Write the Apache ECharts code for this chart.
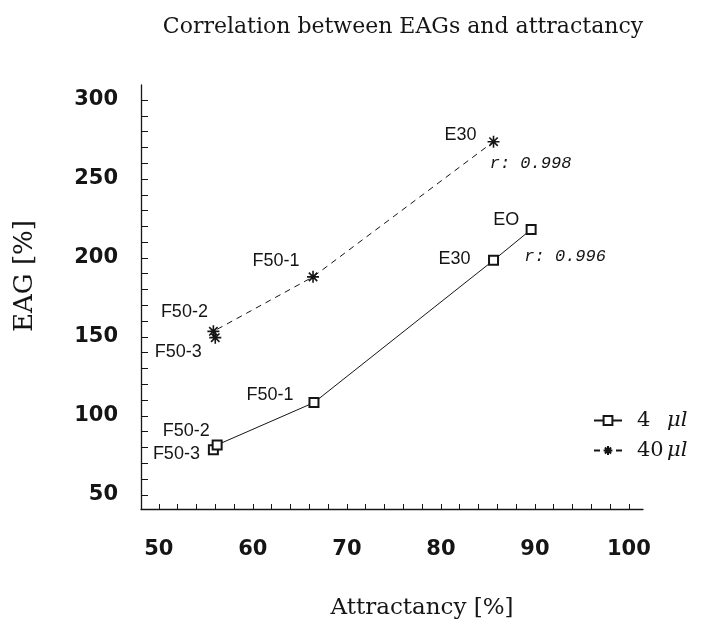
<!DOCTYPE html>
<html>
<head>
<meta charset="utf-8">
<script src="https://cdn.jsdelivr.net/npm/echarts@6/dist/echarts.min.js"></script>
<style>
html,body{margin:0;padding:0;background:#fff;}
#chart{width:707px;height:628px;}
</style>
</head>
<body>
<div id="chart"></div>
<script>
// ---- data ----
var pointNames4 = ['F50-3', 'F50-2', 'F50-1', 'E30', 'EO'];
var attract4 = [55.8, 56.2, 66.5, 85.6, 89.6];
var eag4 = [78.5, 81.6, 108.4, 198.5, 218];

var pointNames40 = ['F50-3', 'F50-2', 'F50-1', 'E30'];
var attract40 = [56.0, 55.8, 66.4, 85.6];
var eag40 = [149.5, 153.5, 188, 273.6];

var seriesNames = ['4 \u03bcl', '40 \u03bcl'];
var rLabel4 = 'r: 0.996';
var rLabel40 = 'r: 0.998';

var xTickLabels = [50, 60, 70, 80, 90, 100];
var yTickLabels = [50, 100, 150, 200, 250, 300];

// ---- layout / style (not data) ----
var labelOffsets4 = [[-37, 4], [-31, -14], [-44, -8], [-39, -1], [-25, -9]];
var labelOffsets40 = [[-37, 14], [-29, -19], [-37, -16], [-33, -7]];

var xMinor = [];
for (var v = 48; v <= 100; v += 2) xMinor.push(v);
var yMinor = [];
for (var w = 50; w <= 300; w += 10) yMinor.push(w);

function buildData(xs, ys, names, offsets) {
  return xs.map(function (x, i) {
    return {
      value: [x, ys[i]],
      name: names[i],
      label: { offset: offsets[i] }
    };
  });
}

var ink = '#151515';
var labelStyle = {
  show: true,
  position: 'inside',
  align: 'center',
  verticalAlign: 'middle',
  formatter: '{b}',
  fontFamily: 'Liberation Sans',
  fontSize: 18,
  color: ink
};
var rStyle = {
  fontFamily: 'Liberation Mono',
  fontStyle: 'italic',
  fontSize: 17,
  color: ink
};
var starPath = 'path://M5,0L5,10M0,5L10,5M1.5,1.5L8.5,8.5M8.5,1.5L1.5,8.5';

var chart = echarts.init(document.getElementById('chart'));
chart.setOption({
  backgroundColor: '#ffffff',
  animation: false,
  title: {
    text: 'Correlation between EAGs and attractancy',
    left: 398,
    textAlign: 'center',
    top: 11,
    textStyle: { fontFamily: 'DejaVu Serif', fontWeight: 'normal', fontSize: 22, color: ink }
  },
  grid: { left: 141, right: 64, top: 85, bottom: 119 },
  xAxis: {
    type: 'value',
    min: 48.1,
    max: 101.5,
    name: 'Attractancy [%]',
    nameLocation: 'middle',
    nameGap: 88,
    nameTextStyle: { fontFamily: 'DejaVu Serif', fontSize: 23, color: ink, padding: [0, 0, 0, 60] },
    axisLine: { lineStyle: { color: ink, width: 1.3 } },
    axisTick: { show: true, inside: true, length: 5, customValues: xMinor, lineStyle: { color: ink, width: 1 } },
    axisLabel: {
      customValues: xTickLabels,
      margin: 30,
      fontFamily: 'DejaVu Sans',
      fontWeight: 'bold',
      fontSize: 21,
      color: ink
    },
    splitLine: { show: false }
  },
  yAxis: {
    type: 'value',
    min: 41,
    max: 309.5,
    name: 'EAG [%]',
    nameLocation: 'middle',
    nameGap: 103,
    nameTextStyle: { fontFamily: 'DejaVu Serif', fontSize: 26, color: ink, padding: [0, 0, 0, 42] },
    axisLine: { lineStyle: { color: ink, width: 1.3 } },
    axisTick: { show: true, inside: true, length: 7, customValues: yMinor, lineStyle: { color: ink, width: 1 } },
    axisLabel: {
      customValues: yTickLabels,
      margin: 23,
      fontFamily: 'DejaVu Sans',
      fontWeight: 'bold',
      fontSize: 21,
      color: ink
    },
    splitLine: { show: false }
  },
  legend: {
    orient: 'vertical',
    left: 588,
    top: 405,
    itemWidth: 28,
    itemHeight: 11,
    itemGap: 9,
    data: seriesNames,
    formatter: function (name) {
      var parts = name.split(' ');
      return '{n|' + parts[0] + '}{u|' + parts[1] + '}';
    },
    textStyle: {
      color: ink,
      padding: [0, 0, 0, 10],
      rich: {
        n: { fontFamily: 'DejaVu Serif', fontSize: 21, color: ink, width: 30, align: 'left' },
        u: { fontFamily: 'DejaVu Serif', fontStyle: 'italic', fontSize: 21, color: ink }
      }
    }
  },
  series: [
    {
      name: seriesNames[0],
      type: 'line',
      data: buildData(attract4, eag4, pointNames4, labelOffsets4),
      symbol: 'emptyRect',
      symbolSize: 9,
      itemStyle: { color: ink, borderColor: ink, borderWidth: 1.3 },
      lineStyle: { color: ink, width: 1, type: 'solid' },
      label: labelStyle,
      markPoint: {
        symbol: 'circle',
        symbolSize: 0,
        data: [{ coord: [attract4[4], eag4[4]], value: rLabel4 }],
        label: Object.assign({ show: true, position: 'inside', formatter: rLabel4, offset: [34, 27] }, rStyle)
      }
    },
    {
      name: seriesNames[1],
      type: 'line',
      data: buildData(attract40, eag40, pointNames40, labelOffsets40),
      symbol: starPath,
      symbolSize: 12,
      itemStyle: { color: ink, borderColor: ink, borderWidth: 1.6 },
      lineStyle: { color: ink, width: 1, type: [6, 5] },
      label: labelStyle,
      markPoint: {
        symbol: 'circle',
        symbolSize: 0,
        data: [{ coord: [attract40[3], eag40[3]], value: rLabel40 }],
        label: Object.assign({ show: true, position: 'inside', formatter: rLabel40, offset: [37, 22] }, rStyle)
      }
    }
  ]
});
</script>
</body>
</html>
